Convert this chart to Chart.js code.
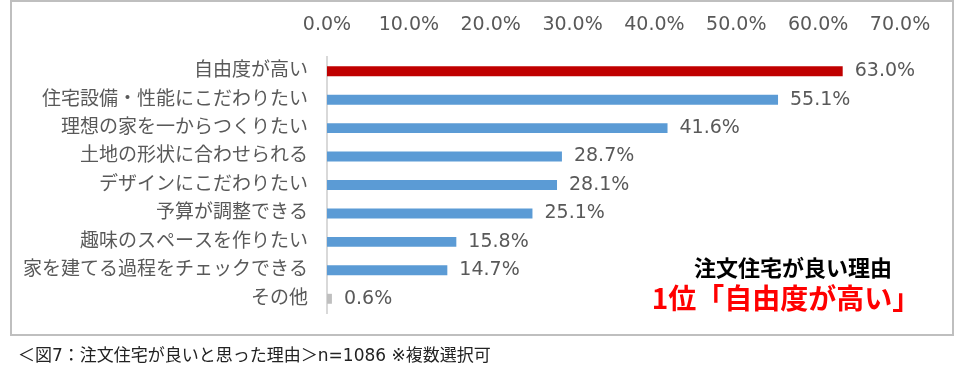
<!DOCTYPE html>
<html><head><meta charset="utf-8">
<script src="https://cdn.jsdelivr.net/npm/chart.js@4.4.1/dist/chart.umd.min.js"></script>
<style>
html,body{margin:0;padding:0;background:#fff;width:955px;height:388px;overflow:hidden;}
#frame{position:absolute;left:10px;top:0;width:944px;height:336px;border:2px solid #bfbfbf;box-sizing:border-box;}
#wrap{position:absolute;left:0;top:0;width:955px;height:388px;}
.ann{position:absolute;font-family:"Noto Sans CJK JP",sans-serif;font-weight:bold;white-space:nowrap;transform:translate(-50%,-50%);}
#cap{position:absolute;left:18px;top:341px;font-family:"DejaVu Sans","Noto Sans CJK JP",sans-serif;font-size:17px;color:#222;white-space:nowrap;}
</style></head>
<body>
<div id="frame"></div>
<div id="wrap"><canvas id="c" width="955" height="388"></canvas></div>
<div class="ann" style="left:793px;top:266px;font-size:22px;color:#000;">注文住宅が良い理由</div>
<div class="ann" style="left:786px;top:297px;font-size:28px;color:#ff0000;">1位「自由度が高い」</div>
<div id="cap">＜図7：注文住宅が良いと思った理由＞n=1086 ※複数選択可</div>
<script>
const categories = ["自由度が高い","住宅設備・性能にこだわりたい","理想の家を一からつくりたい","土地の形状に合わせられる","デザインにこだわりたい","予算が調整できる","趣味のスペースを作りたい","家を建てる過程をチェックできる","その他"];
const values = [63.0,55.1,41.6,28.7,28.1,25.1,15.8,14.7,0.6];
const barColors = ["#C00000","#5B9BD5","#5B9BD5","#5B9BD5","#5B9BD5","#5B9BD5","#5B9BD5","#5B9BD5","#BFBFBF"];
const tickValues = [0,10,20,30,40,50,60,70];

const FONT = '"DejaVu Sans","Noto Sans CJK JP",sans-serif';
const labelPlugin = {
  id:'barLabels',
  afterDatasetsDraw(chart){
    const ctx = chart.ctx;
    const meta = chart.getDatasetMeta(0);
    ctx.save();
    ctx.font = '19px ' + FONT;
    ctx.fillStyle = '#595959';
    ctx.textAlign = 'left';
    ctx.textBaseline = 'middle';
    meta.data.forEach((bar,i)=>{
      ctx.fillText(values[i].toFixed(1)+'%', bar.x + 12, bar.y);
    });
    ctx.restore();
  }
};

new Chart(document.getElementById('c'),{
  type:'bar',
  data:{labels:categories,datasets:[{data:values,backgroundColor:barColors,borderWidth:0,categoryPercentage:1,barPercentage:0.35}]},
  options:{
    indexAxis:'y',
    responsive:false,
    animation:false,
    layout:{padding:{left:0,right:55,top:0,bottom:75}},
    plugins:{legend:{display:false},tooltip:{enabled:false}},
    scales:{
      x:{position:'top',min:0,max:70,
        afterBuildTicks(s){s.ticks = tickValues.map(v=>({value:v}));},
        afterFit(s){s.height=57;},
        grid:{display:false},border:{display:false},
        ticks:{padding:13,color:'#595959',font:{family:FONT,size:19},callback:v=>Number(v).toFixed(1)+'%'}},
      y:{afterFit(s){s.width=327;},
        grid:{display:false},border:{display:true,color:'#d9d9d9',width:2},
        ticks:{padding:11,color:'#595959',font:{family:FONT,size:19},autoSkip:false}}
    }
  },
  plugins:[labelPlugin]
});
</script>
</body></html>
